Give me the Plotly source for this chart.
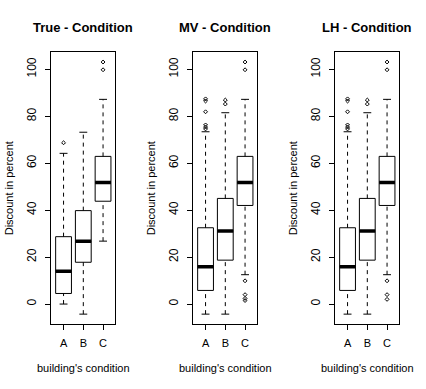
import plotly.graph_objects as go

categories = ["A", "B", "C"]
panel_titles = ["True - Condition", "MV - Condition", "LH - Condition"]
y_ticks = [0, 20, 40, 60, 80, 100]
y_label = "Discount in percent"
x_label = "building's condition"

# True - Condition
true_lower = [0.0, -4.3, 26.8]
true_q1 = [4.5, 17.8, 43.8]
true_median = [14.0, 26.7, 51.8]
true_q3 = [28.7, 39.8, 62.9]
true_upper = [64.2, 73.2, 87.2]
true_outliers = [[68.7], [], [99.8, 103.1]]

# MV - Condition
mv_lower = [-4.3, -4.3, 12.5]
mv_q1 = [5.8, 18.7, 42.0]
mv_median = [15.9, 31.1, 51.8]
mv_q3 = [32.5, 45.0, 62.9]
mv_upper = [73.4, 81.5, 87.2]
mv_outliers = [[74.6, 75.4, 76.3, 81.9, 86.5, 87.4], [85.2, 86.9], [1.5, 2.4, 4.0, 9.9, 99.8, 103.1]]

# LH - Condition
lh_lower = [-4.3, -4.3, 12.5]
lh_q1 = [5.8, 18.7, 42.0]
lh_median = [15.9, 31.1, 51.8]
lh_q3 = [32.5, 45.0, 62.9]
lh_upper = [73.4, 81.5, 87.2]
lh_outliers = [[74.6, 75.4, 76.3, 81.9, 86.5, 87.4], [85.2, 86.9], [2.0, 4.0, 9.9, 99.8, 103.1]]

panels = [
    (true_lower, true_q1, true_median, true_q3, true_upper, true_outliers),
    (mv_lower, mv_q1, mv_median, mv_q3, mv_upper, mv_outliers),
    (lh_lower, lh_q1, lh_median, lh_q3, lh_upper, lh_outliers),
]

W, H = 426, 389
BOX_W = 0.8
CAP_W = 0.4
FONT = "Liberation Sans, Arial, sans-serif"

fig = go.Figure()
layout = {}
annotations = []

panel_left = [51.3, 193.3, 335.3]
panel_width = 64.0
y_top_px, y_bot_px = 51.7, 324.0
ydom = [(H - y_bot_px) / H, (H - y_top_px) / H]

for p, (lo, q1, med, q3, up, outl) in enumerate(panels):
    xa = "x" if p == 0 else f"x{p+1}"
    ya = "y" if p == 0 else f"y{p+1}"
    xs = [i + 1 for i in range(len(categories))]

    # dashed whiskers
    wx, wy = [], []
    for x, a, b, c, d in zip(xs, lo, q1, q3, up):
        wx += [x, x, None, x, x, None]
        wy += [a, b, None, c, d, None]
    fig.add_trace(go.Scatter(x=wx, y=wy, mode="lines", xaxis=xa, yaxis=ya,
                             line=dict(color="black", width=1, dash="4px,4px"),
                             hoverinfo="skip", showlegend=False))
    # whisker caps
    cx, cy = [], []
    for x, a, d in zip(xs, lo, up):
        cx += [x - CAP_W / 2, x + CAP_W / 2, None, x - CAP_W / 2, x + CAP_W / 2, None]
        cy += [a, a, None, d, d, None]
    fig.add_trace(go.Scatter(x=cx, y=cy, mode="lines", xaxis=xa, yaxis=ya,
                             line=dict(color="black", width=1),
                             hoverinfo="skip", showlegend=False))
    # boxes
    fig.add_trace(go.Box(x=xs, q1=q1, median=med, q3=q3, lowerfence=q1, upperfence=q3,
                         width=BOX_W, whiskerwidth=0, fillcolor="white",
                         line=dict(color="black", width=1), xaxis=xa, yaxis=ya,
                         boxpoints=False, hoverinfo="skip", showlegend=False))
    # thick medians
    mx, my = [], []
    for x, m in zip(xs, med):
        mx += [x - BOX_W / 2, x + BOX_W / 2, None]
        my += [m, m, None]
    fig.add_trace(go.Scatter(x=mx, y=my, mode="lines", xaxis=xa, yaxis=ya,
                             line=dict(color="black", width=3.5),
                             hoverinfo="skip", showlegend=False))
    # outliers
    ox, oy = [], []
    for x, pts in zip(xs, outl):
        ox += [x] * len(pts)
        oy += pts
    fig.add_trace(go.Scatter(x=ox, y=oy, mode="markers", xaxis=xa, yaxis=ya,
                             marker=dict(symbol="diamond-open", size=3, color="black",
                                         line=dict(width=1, color="black")),
                             hoverinfo="skip", showlegend=False))

    x0 = panel_left[p] / W
    x1 = (panel_left[p] + panel_width) / W
    xkey = "xaxis" if p == 0 else f"xaxis{p+1}"
    ykey = "yaxis" if p == 0 else f"yaxis{p+1}"
    layout[xkey] = dict(domain=[x0, x1], anchor=ya, range=[0.38, 3.62],
                        tickvals=xs, ticktext=categories, ticks="outside", ticklen=5,
                        ticklabelstandoff=4,
                        tickcolor="black", showline=True, mirror=True, linecolor="black",
                        linewidth=1, showgrid=False, zeroline=False,
                        tickfont=dict(size=11, color="black", family=FONT))
    layout[ykey] = dict(domain=ydom, anchor=xa, range=[-8.5, 107.5],
                        tickvals=y_ticks, ticks="outside", ticklen=5, tickangle=-90,
                        ticklabelstandoff=5,
                        tickcolor="black", showline=True, mirror=True, linecolor="black",
                        linewidth=1, showgrid=False, zeroline=False,
                        tickfont=dict(size=12, color="black", family=FONT))

    cxp = (panel_left[p] + panel_width / 2) / W
    annotations.append(dict(text=f"<b>{panel_titles[p]}</b>", xref="paper", yref="paper",
                            x=cxp, y=(H - 27.7) / H, xanchor="center", yanchor="middle",
                            showarrow=False, font=dict(size=13, color="black", family=FONT)))
    annotations.append(dict(text=x_label, xref="paper", yref="paper",
                            x=cxp, y=(H - 368) / H, xanchor="center", yanchor="middle",
                            showarrow=False, font=dict(size=11, color="black", family=FONT)))
    annotations.append(dict(text=y_label, xref="paper", yref="paper", textangle=-90,
                            x=(panel_left[p] - 42) / W, y=(H - 188) / H,
                            xanchor="center", yanchor="middle",
                            showarrow=False, font=dict(size=11, color="black", family=FONT)))

fig.update_layout(width=W, height=H, margin=dict(l=0, r=0, t=0, b=0),
                  plot_bgcolor="white", paper_bgcolor="white",
                  annotations=annotations, **layout)

fig.write_html("out.html", config={"displayModeBar": False, "staticPlot": True},
               post_script="document.body.style.margin='0';document.body.style.overflow='hidden';")
